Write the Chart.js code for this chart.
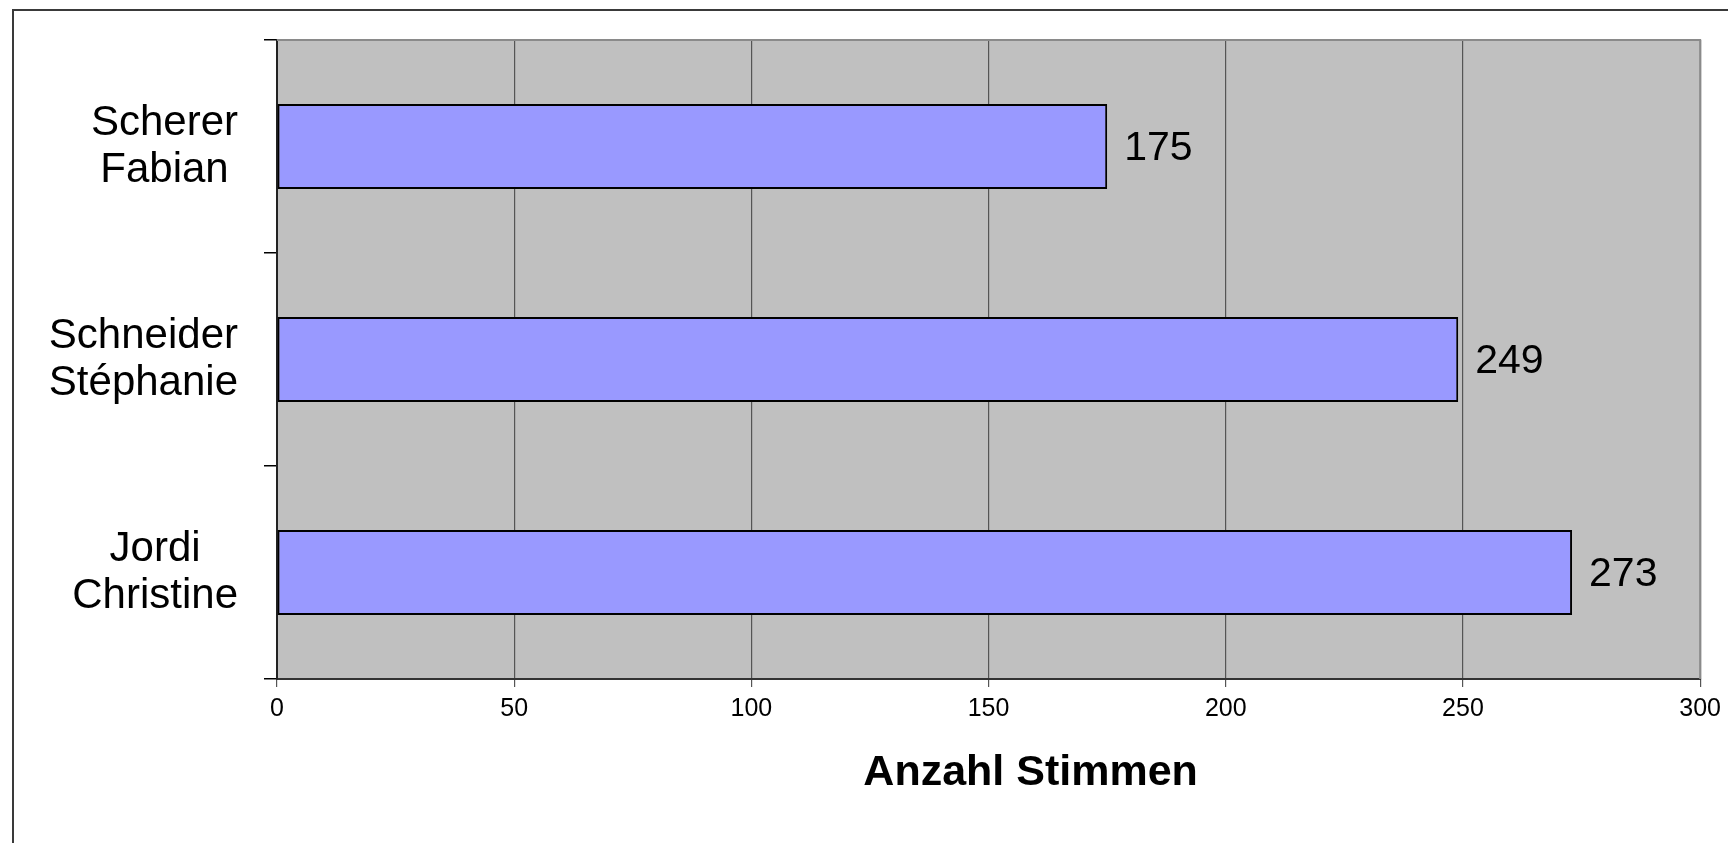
<!DOCTYPE html>
<html>
<head>
<meta charset="utf-8">
<script src="https://cdn.jsdelivr.net/npm/chart.js@4/dist/chart.umd.min.js"></script>
<style>
  html, body { margin: 0; padding: 0; background: #fff; }
  #wrap { width: 1728px; height: 843px; position: relative; }
</style>
</head>
<body>
<div id="wrap"><canvas id="chart"></canvas></div>
<script>
// candidates (top to bottom) and their votes
const categories = [["Scherer", "Fabian"], ["Schneider", "Stéphanie"], ["Jordi", "Christine"]];
const votes = [175, 249, 273];
const xTicks = [0, 50, 100, 150, 200, 250, 300];
const axisTitle = "Anzahl Stimmen";

const FONT = "'Liberation Sans', Arial, sans-serif";

// plot background, outer frame, top/right plot border
const framePlugin = {
  id: "frame",
  beforeDraw(chart) {
    const { ctx, chartArea: a } = chart;
    ctx.save();
    ctx.fillStyle = "#c0c0c0";
    ctx.fillRect(a.left, a.top, a.right - a.left, a.bottom - a.top);
    ctx.restore();
  },
  afterDraw(chart) {
    const { ctx, chartArea: a } = chart;
    ctx.save();
    // plot border top / right
    ctx.strokeStyle = "#8a8a8a";
    ctx.lineWidth = 2;
    ctx.beginPath();
    ctx.moveTo(a.left, a.top);
    ctx.lineTo(a.right, a.top);
    ctx.lineTo(a.right, a.bottom);
    ctx.stroke();
    // outer frame (left + top, cut at the window edge)
    ctx.strokeStyle = "#3a3a3a";
    ctx.lineWidth = 2;
    ctx.beginPath();
    ctx.moveTo(13, chart.height);
    ctx.lineTo(13, 10);
    ctx.lineTo(chart.width, 10);
    ctx.stroke();
    ctx.restore();
  }
};

// category labels, value labels, axis title
const labelPlugin = {
  id: "labels",
  afterDraw(chart) {
    const { ctx, chartArea: a } = chart;
    const yScale = chart.scales.y;
    ctx.save();
    ctx.fillStyle = "#000";

    // category labels: block right-aligned, lines centred on the widest
    ctx.font = "42px " + FONT;
    ctx.textAlign = "center";
    ctx.textBaseline = "middle";
    const lineH = 47;
    categories.forEach((lines, i) => {
      const cy = yScale.getPixelForValue(i);
      const w = Math.max(...lines.map(l => ctx.measureText(l).width));
      const cx = a.left - 39 - w / 2;
      lines.forEach((l, j) => {
        ctx.fillText(l, cx, cy + (j - (lines.length - 1) / 2) * lineH);
      });
    });

    // value labels right of the bars
    ctx.font = "41px " + FONT;
    ctx.textAlign = "left";
    const meta = chart.getDatasetMeta(0);
    meta.data.forEach((bar, i) => {
      ctx.fillText(String(votes[i]), bar.x + 17, bar.y + 2);
    });

    // axis title
    ctx.font = "bold 43px " + FONT;
    ctx.textAlign = "center";
    ctx.fillText(axisTitle, (a.left + a.right) / 2 + 42, a.bottom + 94);
    ctx.restore();
  }
};

new Chart(document.getElementById("chart"), {
  type: "bar",
  data: {
    labels: categories.map(c => c.join(" ")),
    datasets: [{
      data: votes,
      backgroundColor: "#9999ff",
      borderColor: "#000",
      borderWidth: 2,
      borderSkipped: false,
      categoryPercentage: 1,
      barPercentage: 0.4
    }]
  },
  options: {
    indexAxis: "y",
    responsive: true,
    maintainAspectRatio: false,
    animation: false,
    layout: { padding: { left: 0, top: 40, right: 27, bottom: 0 } },
    plugins: {
      legend: { display: false },
      tooltip: { enabled: false },
      title: { display: false }
    },
    scales: {
      x: {
        type: "linear",
        min: xTicks[0],
        max: xTicks[xTicks.length - 1],
        afterBuildTicks(scale) { scale.ticks = xTicks.map(v => ({ value: v })); },
        ticks: { color: "#000", font: { family: FONT, size: 25 }, padding: 7, maxRotation: 0 },
        grid: { color: "#555", lineWidth: 1.2, tickLength: 8, tickColor: "#555" },
        border: { color: "#333", width: 2 },
        afterFit(scale) { scale.height = 164; }
      },
      y: {
        type: "category",
        offset: true,
        ticks: { display: false },
        grid: { offset: true, drawOnChartArea: false, drawTicks: true, tickLength: 13, color: "#000", lineWidth: 1.5 },
        border: { color: "#222", width: 2 },
        afterFit(scale) { scale.width = 277; }
      }
    }
  },
  plugins: [framePlugin, labelPlugin]
});
</script>
</body>
</html>
